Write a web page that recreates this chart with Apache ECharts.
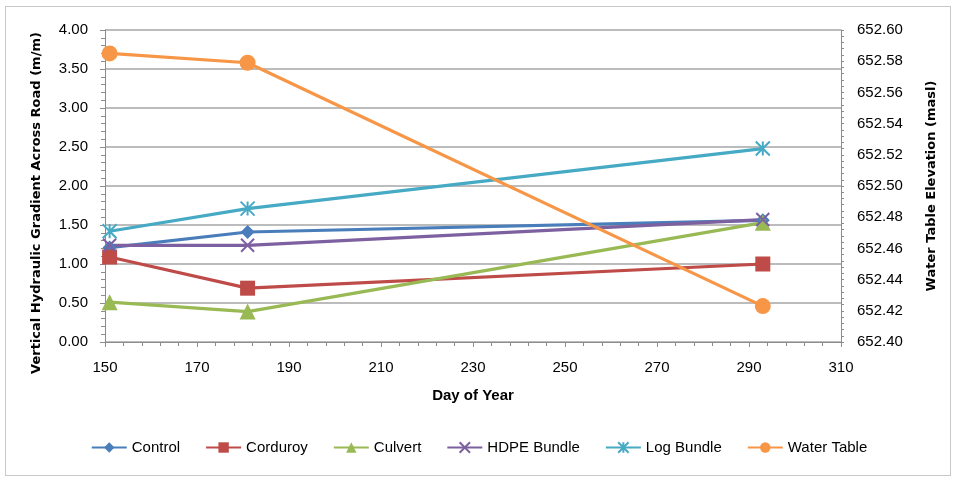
<!DOCTYPE html>
<html>
<head>
<meta charset="utf-8">
<script src="https://cdn.jsdelivr.net/npm/echarts@6/dist/echarts.min.js"></script>
<style>
  html, body { margin: 0; padding: 0; background: #ffffff; }
  #frame { position: absolute; left: 5px; top: 6px; width: 946px; height: 470px; border: 1px solid #c8c8c8; box-sizing: border-box; }
  #chart { width: 958px; height: 486px; position: absolute; left: 0; top: 0; }
</style>
</head>
<body>
<div id="frame"></div>
<div id="chart"></div>
<script>
// Day of year for each survey
const days = [151, 181, 293];

// Vertical hydraulic gradient across the road (m/m)
const control   = [1.21, 1.41, 1.56];
const corduroy  = [1.09, 0.69, 1.00];
const culvert   = [0.51, 0.39, 1.53];
const hdpe      = [1.24, 1.24, 1.57];
const logBundle = [1.42, 1.71, 2.48];

// Water table elevation (masl)
const waterTable = [652.585, 652.579, 652.423];

const seriesNames = ['Control', 'Corduroy', 'Culvert', 'HDPE Bundle', 'Log Bundle', 'Water Table'];
const seriesColors = ['#4A7EBB', '#BE4B48', '#98B954', '#7D60A0', '#46AAC5', '#F79646'];

const X_SYMBOL = 'path://M0,0 L10,10 M10,0 L0,10';
const STAR_SYMBOL = 'path://M5,0 L5,10 M0,0 L10,10 M10,0 L0,10';

const tickFont = "'Liberation Sans', Arial, sans-serif";
const titleFont = "'DejaVu Sans', Verdana, sans-serif";

function pairs(vals) {
  return days.map((d, i) => [d, vals[i]]);
}

function makeSeries(name, vals, color, symbol, size, yIdx, stroke) {
  return {
    name: name,
    type: 'line',
    yAxisIndex: yIdx,
    data: pairs(vals),
    symbol: symbol,
    symbolSize: size,
    showSymbol: true,
    lineStyle: { color: color, width: 3.2 },
    itemStyle: stroke
      ? { color: color, borderColor: color, borderWidth: 2 }
      : { color: color, borderColor: color, borderWidth: 0 },
    emphasis: { disabled: true },
    animation: false
  };
}

const chart = echarts.init(document.getElementById('chart'), null, { renderer: 'canvas' });

const option = {
  backgroundColor: 'transparent',
  animation: false,
  grid: { left: 105, right: 117, top: 30, bottom: 144, containLabel: false },
  legend: {
    top: 435,
    left: 'center',
    itemWidth: 35,
    itemHeight: 13,
    itemGap: 25,
    textStyle: { fontFamily: tickFont, fontSize: 15, color: '#000' },
    data: seriesNames
  },
  graphic: [
    {
      type: 'text',
      x: 37, y: 203,
      rotation: Math.PI / 2,
      style: {
        text: 'Vertical Hydraulic Gradient Across Road (m/m)',
        font: "bold 13px 'DejaVu Sans', Verdana, sans-serif",
        fill: '#000',
        align: 'center',
        verticalAlign: 'middle'
      }
    }
  ],
  xAxis: {
    type: 'value',
    min: 150, max: 310, interval: 20,
    name: 'Day of Year',
    nameLocation: 'middle',
    nameGap: 46,
    nameTextStyle: { fontFamily: tickFont, fontWeight: 'bold', fontSize: 15, color: '#000' },
    axisLine: { lineStyle: { color: '#8c8c8c', width: 1 } },
    axisTick: { show: true, length: 5, lineStyle: { color: '#8c8c8c' } },
    minorTick: { show: true, splitNumber: 5, length: 4, lineStyle: { color: '#8c8c8c' } },
    axisLabel: { fontFamily: tickFont, fontSize: 15, color: '#000', margin: 18 },
    splitLine: { show: false }
  },
  yAxis: [
    {
      type: 'value',
      min: 0, max: 4, interval: 0.5,
      axisLine: { show: true, lineStyle: { color: '#8c8c8c', width: 1 } },
      axisTick: { show: true, length: 5, lineStyle: { color: '#8c8c8c' } },
      minorTick: { show: true, splitNumber: 5, length: 4, lineStyle: { color: '#8c8c8c' } },
      axisLabel: { fontFamily: tickFont, fontSize: 15, color: '#000', margin: 17,
        formatter: v => v.toFixed(2) },
      splitLine: { show: true, lineStyle: { color: '#a6a6a6', width: 1.5 } }
    },
    {
      type: 'value',
      min: 652.40, max: 652.60, interval: 0.02,
      position: 'right',
      name: 'Water Table Elevation (masl)',
      nameLocation: 'middle',
      nameGap: 84,
      nameRotate: 90,
      nameTextStyle: { fontFamily: titleFont, fontWeight: 'bold', fontSize: 13, color: '#000' },
      axisLine: { show: true, lineStyle: { color: '#8c8c8c', width: 1 } },
      axisTick: { show: true, length: 3, lineStyle: { color: '#8c8c8c' } },
      minorTick: { show: true, splitNumber: 5, length: 3, lineStyle: { color: '#8c8c8c' } },
      axisLabel: { fontFamily: tickFont, fontSize: 15, color: '#000', margin: 16,
        formatter: v => v.toFixed(2) },
      splitLine: { show: false }
    }
  ],
  series: [
    makeSeries(seriesNames[0], control,   seriesColors[0], 'diamond',  14, 0, false),
    makeSeries(seriesNames[1], corduroy,  seriesColors[1], 'rect',     15, 0, false),
    makeSeries(seriesNames[2], culvert,   seriesColors[2], 'triangle', 16, 0, false),
    makeSeries(seriesNames[3], hdpe,      seriesColors[3], X_SYMBOL,   13, 0, true),
    makeSeries(seriesNames[4], logBundle, seriesColors[4], STAR_SYMBOL, 14, 0, true),
    makeSeries(seriesNames[5], waterTable, seriesColors[5], 'circle',  16, 1, false)
  ]
};

chart.setOption(option);
</script>
</body>
</html>
